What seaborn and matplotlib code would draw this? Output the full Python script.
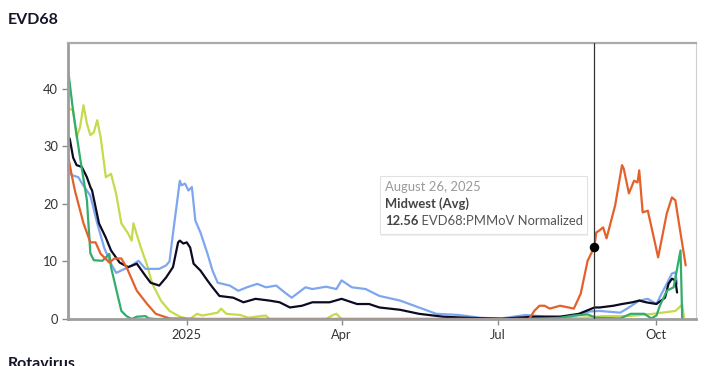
import pandas as pd
import matplotlib.pyplot as plt
import matplotlib.patches as mpatches
import seaborn as sns

# 数据
green_dates = ['2024-10-24', '2024-10-27', '2024-10-31', '2024-11-04', '2024-11-06', '2024-11-08',
               '2024-11-13', '2024-11-17', '2024-11-18', '2024-11-24', '2024-11-27', '2024-11-30',
               '2024-12-03', '2024-12-08', '2024-12-10', '2024-12-14', '2025-03-01', '2025-07-20',
               '2025-08-06', '2025-08-14', '2025-08-22', '2025-08-27', '2025-09-10', '2025-09-16',
               '2025-09-24', '2025-09-28', '2025-10-01', '2025-10-03', '2025-10-07', '2025-10-11',
               '2025-10-15', '2025-10-16']
green_vals = [43.4, 36.0, 28.0, 20.6, 11.4, 10.2,
              10.1, 11.3, 9.0, 1.4, 0.5, 0.0,
              0.4, 0.5, 0.1, 0.0, 0.0, 0.0,
              0.2, 0.6, 0.8, 0.2, 0.1, 0.9,
              0.9, 0.1, 0.6, 2.3, 4.9, 5.5,
              11.9, 0.0]

orange_dates = ['2024-10-24', '2024-10-26', '2024-10-28', '2024-11-02', '2024-11-06', '2024-11-09',
                '2024-11-12', '2024-11-17', '2024-11-20', '2024-11-24', '2024-11-27', '2024-12-03',
                '2024-12-09', '2024-12-14', '2024-12-22', '2025-01-10', '2025-07-19', '2025-07-22',
                '2025-07-25', '2025-07-28', '2025-07-31', '2025-08-06', '2025-08-11', '2025-08-14',
                '2025-08-18', '2025-08-22', '2025-08-26', '2025-08-27', '2025-08-29', '2025-08-31',
                '2025-09-02', '2025-09-07', '2025-09-11', '2025-09-12', '2025-09-15', '2025-09-18',
                '2025-09-20', '2025-09-21', '2025-09-23', '2025-09-26', '2025-10-02', '2025-10-07',
                '2025-10-10', '2025-10-12', '2025-10-14', '2025-10-18']
orange_vals = [28.4, 25.2, 22.3, 16.6, 13.3, 13.3,
               11.3, 9.8, 10.5, 10.5, 9.0, 4.9,
               2.6, 0.9, 0.1, 0.0, 0.0, 1.4,
               2.3, 2.3, 1.8, 2.3, 2.0, 1.8,
               4.4, 10.1, 12.56, 15.0, 15.4, 15.9,
               14.0, 19.7, 26.7, 26.1, 21.8, 24.0,
               23.7, 25.8, 18.5, 18.8, 10.7, 18.3,
               21.1, 20.6, 16.8, 9.3]

blue_dates = ['2024-10-24', '2024-10-26', '2024-10-30', '2024-11-01', '2024-11-06', '2024-11-10',
              '2024-11-14', '2024-11-18', '2024-11-21', '2024-11-26', '2024-11-30', '2024-12-04',
              '2024-12-08', '2024-12-16', '2024-12-20', '2024-12-22', '2024-12-24', '2024-12-28',
              '2024-12-29', '2024-12-31', '2025-01-02', '2025-01-04', '2025-01-06', '2025-01-09',
              '2025-01-13', '2025-01-16', '2025-01-19', '2025-01-26', '2025-01-31', '2025-02-05',
              '2025-02-11', '2025-02-16', '2025-02-22', '2025-02-27', '2025-03-03', '2025-03-11',
              '2025-03-15', '2025-03-23', '2025-03-29', '2025-04-01', '2025-04-07', '2025-04-15',
              '2025-04-23', '2025-05-05', '2025-05-16', '2025-05-26', '2025-06-08', '2025-06-21',
              '2025-07-03', '2025-07-17', '2025-07-29', '2025-08-13', '2025-08-23', '2025-08-29',
              '2025-09-10', '2025-09-15', '2025-09-21', '2025-09-26', '2025-10-01', '2025-10-04',
              '2025-10-07', '2025-10-10', '2025-10-12', '2025-10-13']
blue_vals = [27.5, 25.0, 24.6, 23.6, 21.4, 16.6,
             12.4, 9.6, 8.0, 8.7, 9.3, 10.1,
             8.7, 8.7, 9.3, 10.0, 14.8, 24.0,
             23.2, 23.5, 22.3, 22.9, 17.1, 15.0,
             11.4, 8.4, 6.3, 5.8, 4.9, 5.5,
             6.1, 5.5, 5.8, 4.6, 3.7, 5.5,
             5.2, 5.6, 5.2, 6.7, 5.5, 5.2,
             4.0, 3.2, 2.0, 0.9, 0.7, 0.2,
             0.1, 0.7, 0.4, 0.4, 1.3, 1.4,
             1.1, 2.0, 3.2, 3.5, 2.6, 4.4,
             6.1, 7.9, 8.1, 6.1]

black_dates = ['2024-10-24', '2024-10-25', '2024-10-27', '2024-10-29', '2024-11-01', '2024-11-04',
               '2024-11-06', '2024-11-07', '2024-11-11', '2024-11-15', '2024-11-18', '2024-11-23',
               '2024-11-28', '2024-12-03', '2024-12-08', '2024-12-11', '2024-12-16', '2024-12-20',
               '2024-12-24', '2024-12-27', '2024-12-28', '2024-12-30', '2025-01-01', '2025-01-03',
               '2025-01-05', '2025-01-09', '2025-01-13', '2025-01-16', '2025-01-20', '2025-01-28',
               '2025-02-03', '2025-02-10', '2025-02-18', '2025-02-24', '2025-03-02', '2025-03-09',
               '2025-03-15', '2025-03-25', '2025-04-01', '2025-04-10', '2025-04-17', '2025-04-23',
               '2025-05-05', '2025-05-16', '2025-05-30', '2025-06-14', '2025-07-03', '2025-07-21',
               '2025-08-06', '2025-08-17', '2025-08-26', '2025-08-29', '2025-09-06', '2025-09-11',
               '2025-09-17', '2025-09-21', '2025-09-25', '2025-10-01', '2025-10-06', '2025-10-08',
               '2025-10-10', '2025-10-12', '2025-10-13']
black_vals = [31.5, 31.3, 28.0, 26.7, 26.4, 24.6,
              22.9, 22.3, 16.6, 14.1, 11.9, 9.8,
              9.0, 9.6, 7.5, 6.3, 5.8, 7.2,
              9.0, 13.3, 13.6, 13.1, 13.3, 12.4,
              9.6, 8.4, 6.7, 5.5, 4.0, 3.7,
              2.9, 3.5, 3.2, 2.9, 2.0, 2.3,
              2.9, 2.9, 3.5, 2.6, 2.6, 2.0,
              1.6, 0.9, 0.4, 0.2, 0.05, 0.4,
              0.4, 0.9, 2.0, 2.0, 2.3, 2.6,
              2.9, 3.2, 2.9, 2.6, 3.7, 6.1,
              7.0, 6.7, 4.6]

yellow_dates = ['2024-10-24', '2024-10-27', '2024-10-29', '2024-10-31', '2024-11-02', '2024-11-04',
                '2024-11-06', '2024-11-08', '2024-11-10', '2024-11-12', '2024-11-15', '2024-11-17',
                '2024-11-18', '2024-11-21', '2024-11-24', '2024-11-28', '2024-11-30', '2024-12-01',
                '2024-12-05', '2024-12-09', '2024-12-12', '2024-12-17', '2024-12-22', '2024-12-28',
                '2025-01-01', '2025-01-03', '2025-01-07', '2025-01-10', '2025-01-19', '2025-01-21',
                '2025-01-24', '2025-02-01', '2025-02-06', '2025-02-10', '2025-02-16', '2025-02-18',
                '2025-03-23', '2025-03-27', '2025-03-29', '2025-04-01', '2025-08-06', '2025-08-23',
                '2025-08-31', '2025-09-15', '2025-09-29', '2025-10-07', '2025-10-12', '2025-10-16',
                '2025-10-17']
yellow_vals = [36.6, 36.2, 31.5, 33.3, 37.1, 33.9,
               31.9, 32.4, 34.5, 31.5, 24.6, 25.0,
               25.2, 21.7, 16.6, 14.8, 13.6, 16.6,
               12.7, 9.3, 6.1, 3.2, 1.4, 0.4,
               0.1, 0.0, 0.9, 0.6, 1.1, 1.8,
               0.9, 0.7, 0.2, 0.4, 0.6, 0.0,
               0.0, 0.7, 0.9, 0.0, 0.0, 0.3,
               0.5, 0.5, 0.9, 1.2, 1.4, 2.5,
               0.3]

series_order = ['yellow', 'blue', 'black', 'green', 'orange']
palette = {'yellow': '#c7d94c', 'blue': '#7ea6ef', 'black': '#0c0b22',
           'green': '#33ad6c', 'orange': '#e4612b'}

y_ticks = [0, 10, 20, 30, 40]
x_tick_dates = ['2025-01-01', '2025-04-01', '2025-07-01', '2025-10-01']
x_tick_labels = ['2025', 'Apr', 'Jul', 'Oct']

hover_date = '2025-08-26'
hover_value = 12.56

frames = []
for name, d, v in [('green', green_dates, green_vals), ('orange', orange_dates, orange_vals),
                   ('blue', blue_dates, blue_vals), ('black', black_dates, black_vals),
                   ('yellow', yellow_dates, yellow_vals)]:
    frames.append(pd.DataFrame({'date': pd.to_datetime(d), 'value': v, 'series': name}))
df = pd.concat(frames, ignore_index=True)

sns.set_theme(style='white')
plt.rcParams['font.family'] = ['Lato', 'DejaVu Sans']

fig = plt.figure(figsize=(7.1, 3.66), dpi=100)
ax = fig.add_axes([68 / 710, 1 - 319 / 366, 628 / 710, 276 / 366])

sns.lineplot(data=df, x='date', y='value', hue='series', hue_order=series_order,
             palette=palette, estimator=None, sort=True, linewidth=1.6, legend=False, ax=ax)

# 悬停竖线和点
hd = pd.Timestamp(hover_date)
ax.axvline(hd, color='#333333', linewidth=0.9, zorder=5)
ax.scatter([hd], [hover_value], s=34, color='black', zorder=6)

ax.set_xlim(pd.Timestamp('2024-10-24'), pd.Timestamp('2025-10-24'))
ax.set_ylim(0, 47.9)
ax.set_yticks(y_ticks)
ax.set_xticks(pd.to_datetime(x_tick_dates))
ax.set_xticklabels(x_tick_labels)
ax.set_xlabel('')
ax.set_ylabel('')
ax.tick_params(axis='both', which='both', length=4, width=1, color='#8a8a8a',
               labelcolor='#333333', labelsize=9.3, left=True, bottom=True, pad=3)

ax.spines['left'].set_color('#9d9d9d')
ax.spines['left'].set_linewidth(2)
ax.spines['bottom'].set_color('#9d9d9d')
ax.spines['bottom'].set_linewidth(2)
ax.spines['top'].set_color('#ababab')
ax.spines['top'].set_linewidth(1.6)
ax.spines['right'].set_color('#cfcfcf')
ax.spines['right'].set_linewidth(0.8)

# 提示框
fig.patches.append(mpatches.Rectangle((381 / 710, 1 - 236 / 366), 207 / 710, 58 / 366,
                                      transform=fig.transFigure, facecolor='#000000',
                                      alpha=0.06, edgecolor='none', zorder=9))
fig.patches.append(mpatches.Rectangle((380 / 710, 1 - 234 / 366), 207 / 710, 58 / 366,
                                      transform=fig.transFigure, facecolor='white',
                                      edgecolor='#e2e2e2', linewidth=0.8, zorder=10))
fig.text(385 / 710, 1 - 187 / 366, 'August 26, 2025', color='#9a9a9a', fontsize=9.4,
         va='center', zorder=11)
fig.text(385 / 710, 1 - 204 / 366, 'Midwest (Avg)', color='#444444', fontsize=9.4,
         fontweight='bold', va='center', zorder=11)
t1 = fig.text(385 / 710, 1 - 221 / 366, '12.56', color='#444444', fontsize=9.4,
              fontweight='bold', va='center', zorder=11)
fig.canvas.draw()
x_end = t1.get_window_extent().x1 / fig.bbox.width
fig.text(x_end, 1 - 221 / 366, ' EVD68:PMMoV Normalized', color='#555555', fontsize=9.4,
         va='center', zorder=11)

# 标题
fig.text(8 / 710, 1 - 20 / 366, 'EVD68', fontsize=11.5, fontweight='bold', color='#14142b',
         va='center')
fig.text(8 / 710, 1 - 357 / 366, 'Rotavirus', fontsize=11.5, fontweight='bold',
         color='#14142b', va='top')

fig.savefig('out.png', dpi=100)
